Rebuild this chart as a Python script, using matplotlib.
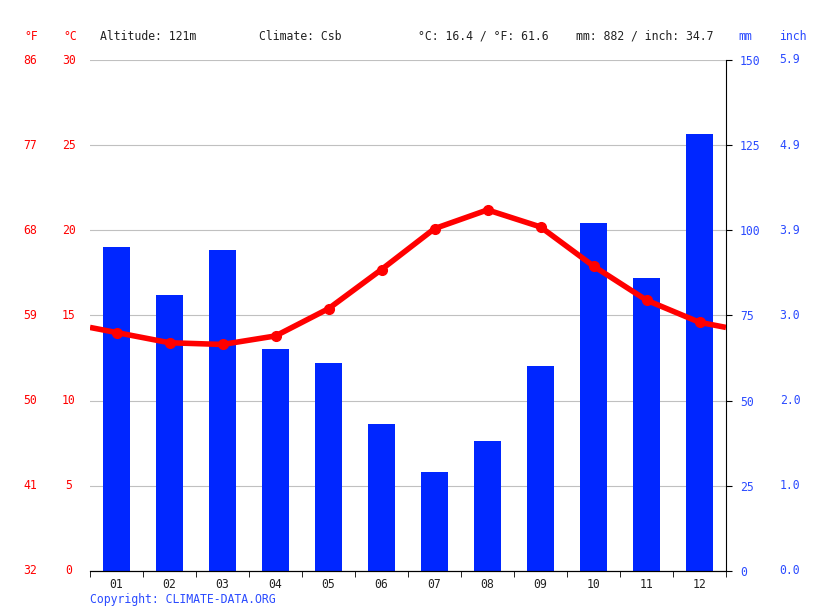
import numpy as np
from matplotlib import pyplot as plt
from matplotlib import transforms

plt.rcParams["font.family"] = ["DejaVu Sans Mono"]
plt.rcParams["font.size"] = 8.3

months = ["01", "02", "03", "04", "05", "06", "07", "08", "09", "10", "11", "12"]
precip_mm = [95.1, 81.0, 94.2, 65.2, 61.0, 43.1, 29.1, 38.2, 60.2, 102.1, 86.0, 128.3]
temp_c = [14.0, 13.4, 13.3, 13.8, 15.4, 17.7, 20.1, 21.2, 20.2, 17.9, 15.9, 14.6]

c_ticks = [0, 5, 10, 15, 20, 25, 30]
f_labels = ["32", "41", "50", "59", "68", "77", "86"]
mm_ticks = [0, 25, 50, 75, 100, 125, 150]
inch_labels = ["0.0", "1.0", "2.0", "3.0", "3.9", "4.9", "5.9"]

red = "#ff0000"
blue = "#0026ff"
label_blue = "#2b4bff"
dark = "#222222"

fig = plt.figure(figsize=(8.15, 6.11), dpi=100)
ax = fig.add_axes([90 / 815, 40 / 611, 636 / 815, 511 / 611])
ax2 = ax.twinx()

x = np.arange(1, 13)

# bars on the mm axis
ax2.set_ylim(0, 150)
ax2.bar(x, precip_mm, width=0.51, color=blue, zorder=2)

# temperature line, wrapped over the year ends
ax.set_ylim(0, 30)
edge = (temp_c[0] + temp_c[-1]) / 2
tx = [0.5] + list(x) + [12.5]
ty = [edge] + temp_c + [edge]
ax.set_zorder(ax2.get_zorder() + 1)
ax.patch.set_visible(False)
ax.plot(tx, ty, color=red, lw=4, solid_capstyle="butt", zorder=3)
ax.plot(x, temp_c, "o", color=red, ms=7, zorder=4)

ax.set_xlim(0.5, 12.5)
ax.set_xticks(x)
ax.set_xticklabels(months, color=dark)
ax.set_xticks(np.arange(0.5, 13, 1), minor=True)
ax.tick_params(axis="x", which="major", length=0, pad=5)
ax.tick_params(axis="x", which="minor", length=4, direction="out")

# grid drawn on the bar axis so it sits under the bars
ax2.set_yticks(mm_ticks)
ax2.grid(axis="y", color="#c0c0c0", lw=0.8, zorder=0)
ax2.set_axisbelow(True)
ax2.set_yticklabels([str(t) for t in mm_ticks], color=label_blue)
ax2.tick_params(axis="y", length=4, direction="out", pad=6)

ax.set_yticks(c_ticks)
ax.set_yticklabels([])
ax.tick_params(axis="y", length=0)

for s in ["top", "left"]:
    ax.spines[s].set_visible(False)
    ax2.spines[s].set_visible(False)
ax.spines["right"].set_visible(False)
ax2.spines["right"].set_color("black")
ax2.spines["bottom"].set_color("black")
ax.spines["bottom"].set_color("black")

# celsius, fahrenheit and inch columns
trans_f = transforms.blended_transform_factory(fig.transFigure, ax.transData)
for t, lab in zip(c_ticks, f_labels):
    ax.text(30 / 815, t, lab, transform=trans_f, ha="center", va="center", color=red)
    ax.text(69 / 815, t, str(t), transform=trans_f, ha="center", va="center", color=red)
trans_i = transforms.blended_transform_factory(fig.transFigure, ax2.transData)
for t, lab in zip(mm_ticks, inch_labels):
    ax2.text(790 / 815, t, lab, transform=trans_i, ha="center", va="center", color=label_blue)

# header
hy = 1 - 36 / 611
fig.text(31 / 815, hy, "°F", color=red, ha="center", va="center")
fig.text(70 / 815, hy, "°C", color=red, ha="center", va="center")
fig.text(100 / 815, hy, "Altitude: 121m", color=dark, va="center")
fig.text(259 / 815, hy, "Climate: Csb", color=dark, va="center")
fig.text(418 / 815, hy, "°C: 16.4 / °F: 61.6", color=dark, va="center")
fig.text(576 / 815, hy, "mm: 882 / inch: 34.7", color=dark, va="center")
fig.text(738 / 815, hy, "mm", color=label_blue, va="center")
fig.text(779 / 815, hy, "inch", color=label_blue, va="center")

fig.text(90 / 815, 1 - 599 / 611, "Copyright: CLIMATE-DATA.ORG", color=label_blue, va="center")

fig.savefig("out.png", dpi=100)
